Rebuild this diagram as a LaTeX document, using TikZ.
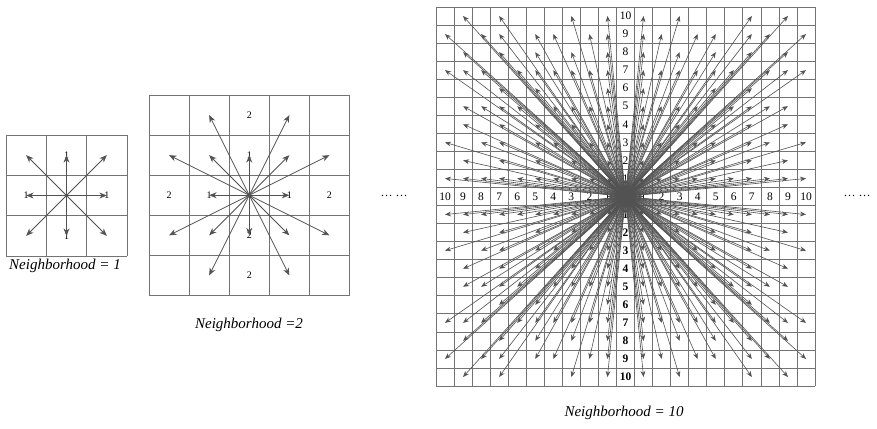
\documentclass[tikz,border=0pt]{standalone}
\usepackage{fontspec}
\setmainfont{Liberation Serif}
\usetikzlibrary{arrows.meta}
\newcount\gcdA \newcount\gcdB \newcount\gcdT
\def\computegcd#1#2{%
  \gcdA=#1\relax \ifnum\gcdA<0 \gcdA=-\gcdA\fi
  \gcdB=#2\relax \ifnum\gcdB<0 \gcdB=-\gcdB\fi
  \loop\ifnum\gcdB>0
    \gcdT=\gcdA \divide\gcdT by \gcdB \multiply\gcdT by \gcdB
    \gcdT=-\gcdT \advance\gcdT by \gcdA
    \gcdA=\gcdB \gcdB=\gcdT
  \repeat}
\begin{document}
\begin{tikzpicture}[x=1pt,y=-1pt,
  gridline/.style={draw=black!55,line width=0.8pt},
  ray/.style={draw=black!68,line width=0.8pt,-{Stealth[length=7.5pt,width=6pt]}},
  smallray/.style={draw=black!68,line width=0.6pt,-{Stealth[length=6pt,width=4.8pt]}},
  num/.style={font=\fontsize{10}{12}\selectfont,inner sep=0pt},
  bignum/.style={font=\fontsize{11.5}{13}\selectfont,inner sep=0pt},
  caption/.style={font=\fontsize{15}{18}\selectfont\itshape,inner sep=0pt},
  dots/.style={font=\fontsize{12}{14}\selectfont,inner sep=0pt}]
\useasboundingbox (0,0) rectangle (877,428);
\fill[white] (0,0) rectangle (877,428);
% ---------- grid 1 ----------
\foreach \i in {0,...,3}{
  \draw[gridline] ({6+\i*40.33},135) -- ({6+\i*40.33},256);
  \draw[gridline] (6,{135+\i*40.33}) -- (127,{135+\i*40.33});
}
\coordinate (cA) at (66.5,195.5);
\node[num] (a1t) at (66.5,{195.5-40.33}) {1};
\node[num] (a1b) at (66.5,{195.5+40.33}) {1};
\node[num] (a1l) at ({66.5-40.33},195.5) {1};
\node[num] (a1r) at ({66.5+40.33},195.5) {1};
\foreach \a in {-1,0,1}{\foreach \b in {-1,0,1}{
  \computegcd{\a}{\b}
  \ifnum\gcdA=1
    \coordinate (tA\a\b) at ({66.5+\a*40.33},{195.5+\b*40.33});
    \draw[ray] (cA) -- (tA\a\b);
  \fi
}}
% ---------- grid 2 ----------
\foreach \i in {0,...,5}{
  \draw[gridline] ({149+\i*40.1},95) -- ({149+\i*40.1},295.5);
  \draw[gridline] (149,{95+\i*40.1}) -- (349.5,{95+\i*40.1});
}
\coordinate (cB) at (249.25,195.25);
\node[num] (b1t) at (249.25,{195.25-40.1}) {1};
\node[num] (b1b) at (249.25,{195.25+40.1}) {2};
\node[num] (b1l) at ({249.25-40.1},195.25) {1};
\node[num] (b1r) at ({249.25+40.1},195.25) {1};
\node[num] (b2t) at (249.25,{195.25-80.2}) {2};
\node[num] (b2b) at (249.25,{195.25+80.2}) {2};
\node[num] (b2l) at ({249.25-80.2},195.25) {2};
\node[num] (b2r) at ({249.25+80.2},195.25) {2};
\foreach \a in {-2,...,2}{\foreach \b in {-2,...,2}{
  \computegcd{\a}{\b}
  \ifnum\gcdA=1
    \coordinate (tB\a\b) at ({249.25+\a*40.1},{195.25+\b*40.1});
    \draw[ray] (cB) -- (tB\a\b);
  \fi
}}
% ---------- grid 10 ----------
\foreach \i in {0,...,21}{
  \draw[gridline] ({436+\i*18.05},7) -- ({436+\i*18.05},386);
  \draw[gridline] (436,{7+\i*18.05}) -- (815,{7+\i*18.05});
}
\coordinate (cC) at (625.5,196.5);
\foreach \k in {1,...,10}{
  \node[bignum] (ct\k) at (625.5,{196.5-\k*18.05}) {\k};
  \node[bignum] (cl\k) at ({625.5-\k*18.05},196.5) {\k};
  \node[bignum] (cr\k) at ({625.5+\k*18.05},196.5) {\k};
  \node[bignum,font=\fontsize{11.5}{13}\selectfont\bfseries] (cb\k) at (625.5,{196.5+\k*18.05}) {\k};
}
\foreach \a in {-10,...,10}{\foreach \b in {-10,...,10}{
  \computegcd{\a}{\b}
  \ifnum\gcdA=1
    \coordinate (tC\a\b) at ({625.5+\a*18.05},{196.5+\b*18.05});
    \draw[smallray] (cC) -- (tC\a\b);
  \fi
}}
% ---------- dots and captions ----------
\node[dots] (dots1) at (394,196) {\dots\ \dots};
\node[dots] (dots2) at (857,196) {\dots\ \dots};
\node[caption] (capA) at (65,266) {Neighborhood = 1};
\node[caption] (capB) at (249,325) {Neighborhood =2};
\node[caption] (capC) at (624,413) {Neighborhood = 10};
\end{tikzpicture}
\end{document}
